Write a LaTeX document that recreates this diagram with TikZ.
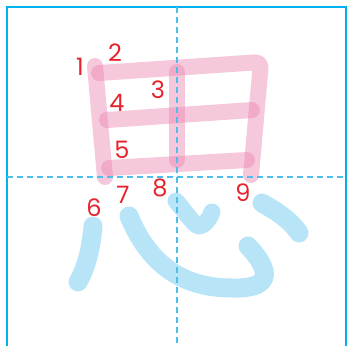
\documentclass[tikz,border=0pt]{standalone}
\usepackage{fontspec}
\setmainfont{Poppins}
\usetikzlibrary{positioning}
\definecolor{framecyan}{RGB}{0,176,240}
\definecolor{guideblue}{RGB}{80,190,235}
\definecolor{tianpink}{RGB}{236,140,180}
\definecolor{xinblue}{RGB}{184,228,248}
\definecolor{numred}{RGB}{230,35,45}

\begin{document}
\begin{tikzpicture}[
  x=1pt, y=-1pt,
  frame/.style={draw=framecyan, line width=2pt},
  guide/.style={draw=guideblue, line width=1.3pt, dash pattern=on 6pt off 4pt},
  tian/.style={draw=tianpink, line width=16pt, line cap=round, line join=round, opacity=0.48},
  xin/.style={draw=xinblue, line width=19pt, line cap=round, line join=round},
  num/.style={text=numred, font=\fontsize{24}{24}\selectfont, inner sep=0pt},
]
  \useasboundingbox (0,0) rectangle (347,345);
  \draw[frame] (7,346) -- (7,7) -- (346,7) -- (346,346);

  % upper part: strokes 1--5
  \draw[tian] (95,66) -- (105,177);
  \draw[tian, rounded corners=6pt] (99,73) -- (261,62) -- (251,175);
  \draw[tian] (177,72) -- (177,160);
  \draw[tian] (107,120) -- (252,110);
  \draw[tian] (109,168) -- (247,160);

  % lower part: strokes 6--9
  \draw[xin] (93,226) .. controls (91,250) and (86,268) .. (78,282);
  \draw[xin] (129,216) .. controls (148,262) and (180,288) .. (232,288)
    .. controls (268,289) and (275,275) .. (248,246);
  \draw[xin, line width=17pt] (176,201) .. controls (188,215) and (195,227) .. (200,226)
    .. controls (205,225) and (210,218) .. (212,212);
  \draw[xin] (262,203) .. controls (278,212) and (291,221) .. (299,233);

  % guide lines
  \draw[guide] (177,7) -- (177,346);
  \draw[guide] (7,177) -- (346,177);

  % stroke numbers
  \node[num] (n1) at (80,67) {1};
  \node[num] (n2) at (115,53) {2};
  \node[num] (n3) at (158,90) {3};
  \node[num] (n4) at (117,103) {4};
  \node[num] (n5) at (122,150) {5};
  \node[num] (n6) at (94,208) {6};
  \node[num] (n7) at (123,195) {7};
  \node[num] (n8) at (160,188) {8};
  \node[num] (n9) at (243,193) {9};
\end{tikzpicture}
\end{document}
